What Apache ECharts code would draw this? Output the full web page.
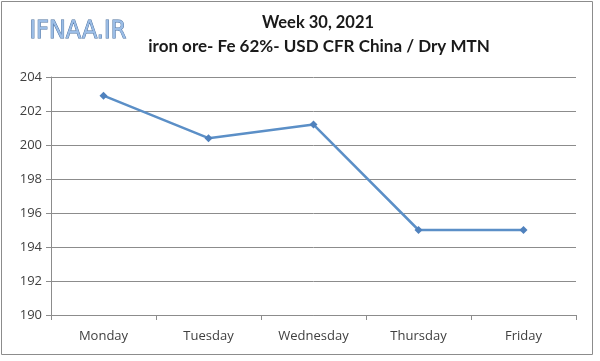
<!DOCTYPE html>
<html><head><meta charset="utf-8">
<script src="https://cdn.jsdelivr.net/npm/echarts@6/dist/echarts.min.js"></script>
<style>html,body{margin:0;padding:0;background:#fff}#c{width:600px;height:361px}</style>
</head><body><div id="c"></div>
<script>
const categories = ['Monday','Tuesday','Wednesday','Thursday','Friday'];
const prices = [202.9, 200.4, 201.2, 195.0, 195.0];
const yMin = 190, yMax = 204, yStep = 2;
const titleLine1 = 'Week 30, 2021';
const titleLine2 = 'iron ore- Fe 62%- USD CFR China / Dry MTN';
const logoText = 'IFNAA.IR';

const chart = echarts.init(document.getElementById('c'));
chart.setOption({
  animation: false,
  graphic: [
    {type:'rect', shape:{x:1.5,y:1.5,width:591,height:353}, style:{fill:'none',stroke:'#8c8c8c',lineWidth:1}},
    {type:'text', left:29, top:19, style:{text:logoText, font:'25px "DejaVu Sans Condensed"', fill:'#9bbde6', stroke:'#4a6f9e', lineWidth:0.9}}
  ],
  title: [
    {text: titleLine1, left: 313, top: 9, textAlign:'center', textStyle:{fontFamily:'Lato', fontSize:16.5, fontWeight:'bold', color:'#1a1a1a'}},
    {text: titleLine2, left: 314, top: 33, textAlign:'center', textStyle:{fontFamily:'Lato', fontSize:17, fontWeight:'bold', color:'#1a1a1a'}}
  ],
  grid: {left:51, right:24, top:77, bottom:46, containLabel:false},
  xAxis: {
    type:'category', data: categories, boundaryGap:true,
    axisLine:{lineStyle:{color:'#8c8c8c'}},
    axisTick:{show:true, alignWithLabel:false, length:5, lineStyle:{color:'#8c8c8c'}},
    axisLabel:{fontFamily:'Open Sans', fontSize:13, color:'#404040', margin:15}
  },
  yAxis: {
    type:'value', min:yMin, max:yMax, interval:yStep,
    axisLine:{show:true, lineStyle:{color:'#8c8c8c'}},
    axisTick:{show:true, length:5, lineStyle:{color:'#8c8c8c'}},
    splitLine:{lineStyle:{color:'#8c8c8c'}},
    axisLabel:{fontFamily:'Open Sans', fontSize:13, color:'#404040', margin:9}
  },
  series: [{
    type:'line', data: prices,
    symbol:'diamond', symbolSize:8,
    lineStyle:{color:'#5b8fc7', width:2.5},
    itemStyle:{color:'#4f81bd'}
  }]
});
</script></body></html>
